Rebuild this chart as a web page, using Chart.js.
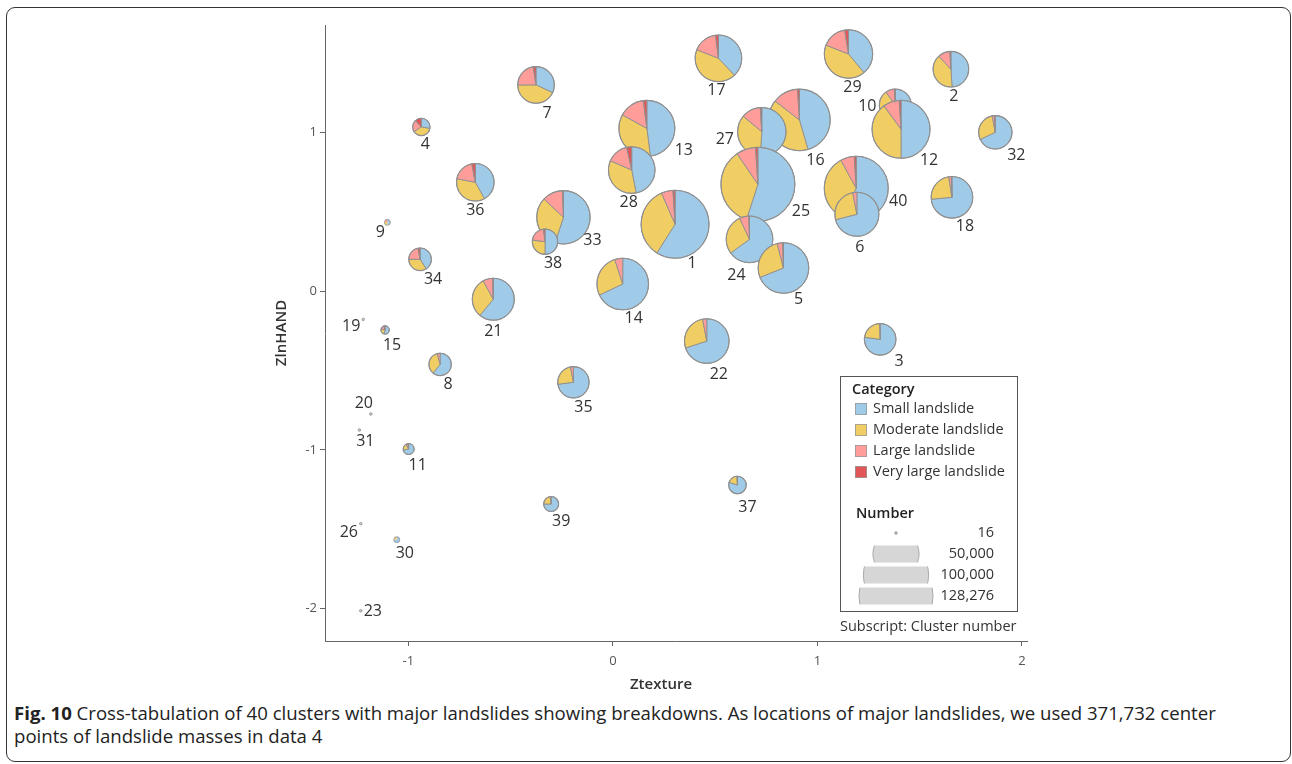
<!DOCTYPE html>
<html><head><meta charset="utf-8">
<script src="https://cdn.jsdelivr.net/npm/chart.js@4.4.1/dist/chart.umd.min.js"></script>
<style>
html,body{margin:0;padding:0;background:#fff;}
body{width:1292px;height:764px;position:relative;overflow:hidden;font-family:"Open Sans",sans-serif;}
#frame{position:absolute;left:6px;top:7px;width:1285px;height:755px;border:1.5px solid #333;border-radius:9px;box-sizing:border-box;}
#wrap{position:absolute;left:0;top:0;width:1292px;height:700px;}
#caption{position:absolute;left:14px;top:701px;font-size:18.6px;line-height:23px;color:#222;white-space:nowrap;}
#caption b{font-weight:700;}
</style></head>
<body>
<div id="frame"></div>
<div id="wrap"><canvas id="c" width="1292" height="700"></canvas></div>
<div id="caption"><b>Fig. 10</b> Cross-tabulation of 40 clusters with major landslides showing breakdowns. As locations of major landslides, we used 371,732 center<br>points of landslide masses in data 4</div>
<script>
// ---------------- data ----------------
const clusters = [1,2,3,4,5,6,7,8,9,10,11,12,13,14,15,16,17,18,19,20,21,22,23,24,25,26,27,28,29,30,31,32,33,34,35,36,37,38,39,40];
const ztexture = [0.304,1.653,1.307,-0.937,0.834,1.193,-0.376,-0.845,-1.103,1.381,-0.999,1.409,0.166,0.048,-1.114,0.912,0.516,1.658,-1.221,-1.184,-0.585,0.459,-1.233,0.668,0.709,-1.233,0.728,0.092,1.152,-1.057,-1.240,1.870,-0.242,-0.943,-0.193,-0.673,0.609,-0.332,-0.302,1.190];
const zlnhand = [0.423,1.401,-0.303,1.037,0.147,0.486,1.302,-0.461,0.435,1.175,-0.995,1.022,1.028,0.046,-0.244,1.081,1.470,0.593,-0.177,-0.774,-0.050,-0.314,-2.015,0.328,0.675,-1.466,1.007,0.765,1.497,-1.567,-0.875,1.003,0.467,0.202,-0.574,0.688,-1.222,0.313,-1.342,0.650];
const numberOfPoints = [108300,29700,23400,7100,60000,45400,31400,11750,840,24000,2830,78800,73500,62400,1650,88900,50900,40500,16,160,41300,46600,30,50900,128276,20,54900,50900,54900,840,60,26100,66800,11960,23100,33100,7260,15100,5270,95950];
// share of each category within a cluster (%)
const pctSmall     = [59,49,77,28,69,71,32,61,50,55,72,50,48,68,55,45.5,38,73.5,60,70,61,70,70,65,55,70,51,47,39,75,70,68,55,41,73,42,80,50,75,58];
const pctModerate  = [34.5,39,22.5,38,27,26,43,35,30,35,20,40,35,27,25,40,43,24,30,25,31,27,25,28,35.5,25,35,34.5,42,20,25,29,32,34,24,36,19,27,23,34];
const pctLarge     = [5.5,11,0.5,22,3.5,3,22.5,4,15,9,6,9,15,5,15,13.5,17,2,10,5,7.5,3,5,6.5,8.5,5,13,15,16.5,5,5,2.5,12.5,22,3,19,1,21,2,7];
const pctVeryLarge = [1,1,0,12,0.5,0,2.5,0,5,1,2,1,2,0,5,1,2,0.5,0,0,0.5,0,0,0.5,1,0,1,3.5,2.5,0,0,0.5,0.5,3,0,3,0,2,0,1];
const categories = ['Small landslide','Moderate landslide','Large landslide','Very large landslide'];
const xTickValues = [-1,0,1,2];
const yTickValues = [1,0,-1,-2];
const sizeLegendValues = [16,50000,100000,128276];
const sizeLegendLabels = ['16','50,000','100,000','128,276'];
const xTitle = 'Ztexture';
const yTitle = 'ZlnHAND';
const legendTitle = 'Category';
const sizeTitle = 'Number';
const subscriptNote = 'Subscript: Cluster number';

// ---------------- style ----------------
const catColors = ['#A0CBE8','#F1CE63','#FF9D9A','#E15759'];
const MAX_R = 37, MIN_R = 1.3;
const maxCount = Math.max(...numberOfPoints);
function radiusFor(n){ return Math.max(MIN_R, MAX_R*Math.sqrt(n/maxCount)); }
const labelOffsets = {1:[17,39],2:[3,27],3:[19,22],4:[4,18],5:[15,31],6:[3,33],7:[11,29],8:[8,20],9:[-7,10],10:[-28,1],
 11:[9,16],12:[28,31],13:[37,22],14:[11,34],15:[7,15],16:[16,40],17:[-2,32],18:[13,29],19:[-12,7],20:[-7,-11],
 21:[0,32],22:[12,33],23:[12,1],24:[-13,36],25:[43,27],26:[-12,9],27:[-37,8],28:[-3,32],29:[4,33],30:[8,14],
 31:[6,11],32:[21,23],33:[29,23],34:[13,20],35:[10,25],36:[0,28],37:[10,22],38:[8,22],39:[10,17],40:[42,13]};
const firstDrawn = [40,33,13,16,10,27,25,24,5];
const drawOrder = firstDrawn.concat(clusters.filter(c=>!firstDrawn.includes(c)));
const FONT = '"Open Sans", sans-serif';

const piePlugin = {
  id:'pies',
  afterDatasetsDraw(chart){
    const ctx = chart.ctx;
    const meta = chart.getDatasetMeta(0);
    ctx.save();
    drawOrder.forEach(id=>{
      const i = clusters.indexOf(id);
      const el = meta.data[i];
      const cx = el.x, cy = el.y, r = radiusFor(numberOfPoints[i]);
      const shares = [pctSmall[i],pctModerate[i],pctLarge[i],pctVeryLarge[i]];
      const tot = shares.reduce((a,b)=>a+b,0);
      let a0 = -Math.PI/2;
      shares.forEach((s,k)=>{
        if(s<=0) return;
        const a1 = a0 + 2*Math.PI*s/tot;
        ctx.beginPath();
        ctx.moveTo(cx,cy);
        ctx.arc(cx,cy,r,a0,a1);
        ctx.closePath();
        ctx.fillStyle = catColors[k];
        ctx.fill();
        if(r>4){ ctx.lineWidth=0.9; ctx.strokeStyle='#8e8e8e'; ctx.stroke(); }
        a0 = a1;
      });
      ctx.beginPath(); ctx.arc(cx,cy,r,0,2*Math.PI);
      ctx.lineWidth = r>4?1.1:0.8; ctx.strokeStyle='#909090'; ctx.stroke();
    });
    // cluster labels
    ctx.fillStyle='#333'; ctx.font='16px '+FONT; ctx.textAlign='center'; ctx.textBaseline='middle';
    clusters.forEach((id,i)=>{
      const el = meta.data[i]; const o = labelOffsets[id];
      ctx.fillText(String(id), el.x+o[0], el.y+o[1]);
    });
    ctx.restore();
  },
  afterDraw(chart){
    const ctx = chart.ctx; const ca = chart.chartArea;
    ctx.save();
    // axis titles
    ctx.fillStyle='#333'; ctx.font='600 15px '+FONT; ctx.textAlign='center'; ctx.textBaseline='middle';
    ctx.fillText(xTitle, 661, 685);
    ctx.save(); ctx.translate(282,(ca.top+ca.bottom)/2); ctx.rotate(-Math.PI/2); ctx.fillText(yTitle,0,0); ctx.restore();
    // legend box
    ctx.strokeStyle='#555'; ctx.lineWidth=1;
    ctx.strokeRect(840.5,376.5,177,235);
    ctx.textAlign='left'; ctx.fillStyle='#222';
    ctx.font='600 14.5px '+FONT;
    ctx.fillText(legendTitle, 852, 390);
    ctx.font='14.5px '+FONT; ctx.fillStyle='#333';
    const rowY=[409,430,451,472];
    categories.forEach((c,k)=>{
      ctx.fillStyle=catColors[k]; ctx.fillRect(855,rowY[k]-6,12,12);
      ctx.strokeStyle='#9a9a9a'; ctx.lineWidth=0.8; ctx.strokeRect(855.5,rowY[k]-5.5,11,11);
      ctx.fillStyle='#333'; ctx.fillText(c, 873, rowY[k]);
    });
    ctx.font='600 14.5px '+FONT; ctx.fillStyle='#222';
    ctx.fillText(sizeTitle, 856, 514);
    const sizeY=[533,554,575,596];
    sizeLegendValues.forEach((v,k)=>{
      const r = radiusFor(v), cx=896, cy=sizeY[k];
      ctx.save(); ctx.beginPath(); ctx.rect(cx-r-2, cy-8.5, 2*r+4, 17); ctx.clip();
      ctx.beginPath(); ctx.arc(cx,cy,r,0,2*Math.PI);
      ctx.fillStyle = r>3?'#d6d6d6':'#aaa'; ctx.fill();
      ctx.strokeStyle='#ababab'; ctx.lineWidth=1; ctx.stroke();
      ctx.restore();
      ctx.fillStyle='#333'; ctx.font='14.5px '+FONT; ctx.textAlign='right';
      ctx.fillText(sizeLegendLabels[k], 994, cy);
    });
    ctx.textAlign='left'; ctx.font='14.5px '+FONT; ctx.fillStyle='#333';
    ctx.fillText(subscriptNote, 840, 627);
    ctx.restore();
  }
};

const pointData = clusters.map((id,i)=>({x:ztexture[i], y:zlnhand[i]}));

new Chart(document.getElementById('c'),{
  type:'scatter',
  data:{datasets:[{label:'Clusters', data:pointData, pointRadius:0, pointHoverRadius:0, borderWidth:0, showLine:false}]},
  options:{
    responsive:false, animation:false,
    events:[],
    layout:{padding:{left:0, top:25, right:265, bottom:0}},
    plugins:{legend:{display:false}, tooltip:{enabled:false}},
    scales:{
      x:{type:'linear', min:-1.408, max:2.025,
        afterBuildTicks:s=>{ s.ticks = xTickValues.map(v=>({value:v})); },
        afterFit:s=>{ s.height = 59; s.paddingLeft=0; s.paddingRight=0; },
        grid:{display:true, drawOnChartArea:false, drawTicks:true, tickLength:5, color:'#666', lineWidth:1},
        border:{display:true, color:'#666', width:1},
        ticks:{font:{family:FONT, size:13}, color:'#555', padding:7, maxRotation:0, callback:v=>String(v)},
        title:{display:false}
      },
      y:{type:'linear', min:-2.206, max:1.68,
        afterBuildTicks:s=>{ s.ticks = yTickValues.map(v=>({value:v})); },
        afterFit:s=>{ s.width = 325; s.paddingTop=0; s.paddingBottom=0; },
        grid:{display:true, drawOnChartArea:false, drawTicks:true, tickLength:5, color:'#666', lineWidth:1},
        border:{display:true, color:'#666', width:1},
        ticks:{font:{family:FONT, size:13}, color:'#555', padding:3, callback:v=>String(v)},
        title:{display:false}
      }
    }
  },
  plugins:[piePlugin]
});
</script>
</body></html>
